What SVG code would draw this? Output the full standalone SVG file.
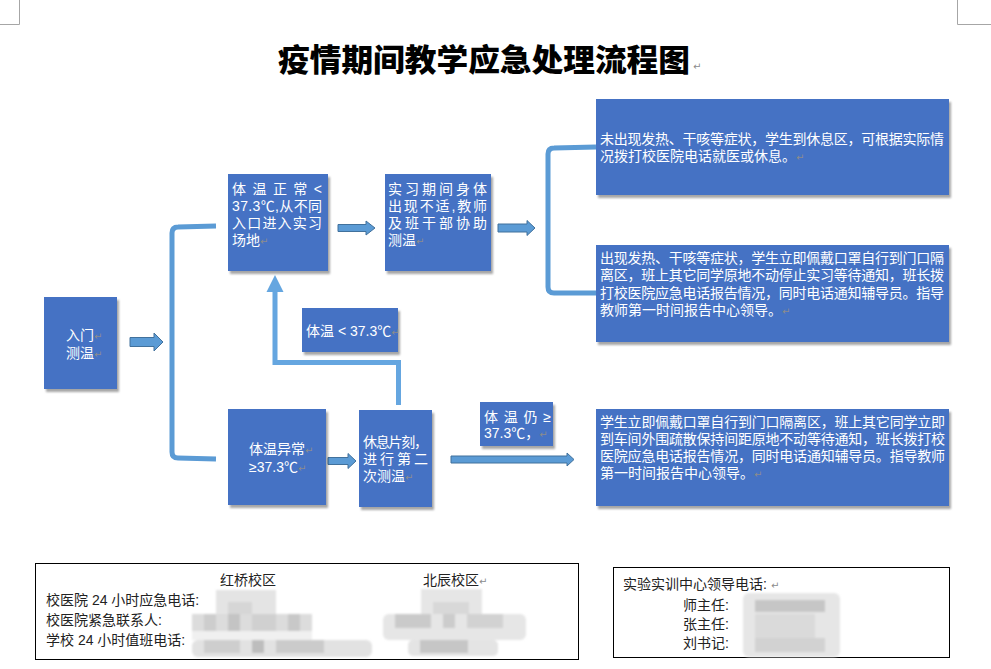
<svg xmlns="http://www.w3.org/2000/svg" width="991" height="669" viewBox="0 0 991 669">
<defs>
<filter id="sh" x="-10%" y="-10%" width="130%" height="140%">
<feDropShadow dx="2" dy="3" stdDeviation="1.3" flood-color="#000" flood-opacity="0.35"/>
</filter>
<filter id="bl" x="-5%" y="-20%" width="110%" height="140%">
<feGaussianBlur stdDeviation="0.8"/>
</filter>
<style>
.box{fill:#4472C4;filter:url(#sh)}
.t{font-family:"Liberation Sans","Noto Sans CJK SC",sans-serif;font-size:14px;fill:#fff}
.pm{font-family:"DejaVu Sans",sans-serif;font-size:10px;fill:#8c8c8c}
.ba{fill:#5B9BD5;stroke:#41719C;stroke-width:1}
.ln{fill:none;stroke:#5B9BD5;stroke-width:5}
.el{fill:none;stroke:#65A6E0;stroke-width:5}
.bt{font-family:"Liberation Sans","Noto Sans CJK SC",sans-serif;font-size:14px;fill:#222}
.frame{fill:#fff;stroke:#000;stroke-width:1}
.cm{fill:none;stroke:#a6a6a6;stroke-width:1}
</style>
</defs>
<rect width="991" height="669" fill="#fff"/>
<path class="cm" d="M19.5,0 V24.5 H0"/>
<path class="cm" d="M957.5,0 V24.5 H991"/>
<text x="484" y="71" text-anchor="middle" textLength="412" lengthAdjust="spacingAndGlyphs" style="font-family:'Noto Sans CJK SC',sans-serif;font-size:31px;font-weight:900;fill:#000">疫情期间教学应急处理流程图</text>
<text x="693" y="70" class="pm">↵</text>

<g id="connectors">
<path class="ba" d="M130,337.5 H154 V333 L163,342 L154,351 V346.5 H130 Z"/>
<path class="ln" d="M216,226 L178,227 Q172,227 172,233 V452 Q172,458 178,458 L216,459"/>
<path class="ba" d="M338,224.5 H366 V221 L375,228 L366,235 V231.5 H338 Z"/>
<path class="ba" d="M498,224 H527 V220.5 L535,228 L527,235.5 V232 H498 Z"/>
<path class="ln" d="M596,147 L554,148 Q548,148 548,154 V287 Q548,293 554,293 L596,293"/>
<path class="ba" d="M328,457.5 H348 V453.5 L356,461 L348,468.5 V464.5 H328 Z"/>
<path class="ba" d="M451,456 H567 V453 L574,459.5 L567,466 V463 H451 Z"/>
<path class="el" d="M398.5,405 V362.5 H275 V290"/>
<polygon points="275,275 266.5,292 283.5,292" fill="#65A6E0"/>
</g>

<g id="n-entry">
<rect class="box" x="44" y="297" width="73" height="92"/>
<text class="t" x="66" y="340">入门<tspan class="pm">↵</tspan></text>
<text class="t" x="66" y="358">测温<tspan class="pm">↵</tspan></text>
</g>

<g id="n-normal">
<rect class="box" x="228" y="174" width="100" height="97"/>
<text class="t" x="232" y="194" textLength="90" lengthAdjust="spacing">体温正常&lt;</text>
<text class="t" x="232" y="211" textLength="90" lengthAdjust="spacing">37.3℃,从不同</text>
<text class="t" x="232" y="228" textLength="90" lengthAdjust="spacing">入口进入实习</text>
<text class="t" x="232" y="245">场地<tspan class="pm">↵</tspan></text>
</g>

<g id="n-unwell">
<rect class="box" x="385" y="174" width="106" height="97"/>
<text class="t" x="388" y="194" textLength="99" lengthAdjust="spacing">实习期间身体</text>
<text class="t" x="388" y="211" textLength="99" lengthAdjust="spacing">出现不适,教师</text>
<text class="t" x="388" y="228" textLength="99" lengthAdjust="spacing">及班干部协助</text>
<text class="t" x="388" y="245">测温<tspan class="pm">↵</tspan></text>
</g>

<g id="n-nofever">
<rect class="box" x="596" y="99" width="353" height="96"/>
<text class="t" x="600" y="144" textLength="344" lengthAdjust="spacing">未出现发热、干咳等症状，学生到休息区，可根据实际情</text>
<text class="t" x="600" y="161">况拨打校医院电话就医或休息。<tspan class="pm">↵</tspan></text>
</g>

<g id="n-fever">
<rect class="box" x="596" y="245" width="353" height="97"/>
<text class="t" x="600" y="263" textLength="344" lengthAdjust="spacing">出现发热、干咳等症状，学生立即佩戴口罩自行到门口隔</text>
<text class="t" x="600" y="280" textLength="344" lengthAdjust="spacing">离区，班上其它同学原地不动停止实习等待通知，班长拨</text>
<text class="t" x="600" y="298" textLength="344" lengthAdjust="spacing">打校医院应急电话报告情况，同时电话通知辅导员。指导</text>
<text class="t" x="600" y="315">教师第一时间报告中心领导。<tspan class="pm">↵</tspan></text>
</g>

<g id="n-below">
<rect class="box" x="302" y="308" width="96" height="44"/>
<text class="t" x="306" y="336">体温 &lt; 37.3℃<tspan class="pm">↵</tspan></text>
</g>

<g id="n-abnormal">
<rect class="box" x="228" y="409" width="98" height="96"/>
<text class="t" x="249" y="454">体温异常<tspan class="pm">↵</tspan></text>
<text class="t" x="249" y="472">≥37.3℃<tspan class="pm">↵</tspan></text>
</g>

<g id="n-rest">
<rect class="box" x="359" y="410" width="73" height="97"/>
<text class="t" x="363" y="447" textLength="65" lengthAdjust="spacing">休息片刻，</text>
<text class="t" x="363" y="464" textLength="65" lengthAdjust="spacing">进行第二</text>
<text class="t" x="363" y="481">次测温<tspan class="pm">↵</tspan></text>
</g>

<g id="n-still">
<rect class="box" x="480" y="402" width="73" height="44"/>
<text class="t" x="484" y="422" textLength="67" lengthAdjust="spacing">体温仍≥</text>
<text class="t" x="484" y="438">37.3℃，<tspan class="pm">↵</tspan></text>
</g>

<g id="n-isolate">
<rect class="box" x="596" y="409" width="353" height="97"/>
<text class="t" x="600" y="427" textLength="345" lengthAdjust="spacing">学生立即佩戴口罩自行到门口隔离区，班上其它同学立即</text>
<text class="t" x="600" y="444" textLength="345" lengthAdjust="spacing">到车间外围疏散保持间距原地不动等待通知，班长拨打校</text>
<text class="t" x="600" y="461" textLength="345" lengthAdjust="spacing">医院应急电话报告情况，同时电话通知辅导员。指导教师</text>
<text class="t" x="600" y="478">第一时间报告中心领导。<tspan class="pm">↵</tspan></text>
</g>

<g id="contacts-left">
<rect class="frame" x="35.5" y="563.5" width="543" height="96"/>
<text class="bt" x="220" y="585">红桥校区</text>
<text class="bt" x="423" y="585">北辰校区<tspan class="pm">↵</tspan></text>
<text class="bt" x="46" y="605">校医院 24  小时应急电话:</text>
<text class="bt" x="46" y="625">校医院紧急联系人:</text>
<text class="bt" x="46" y="645">学校 24  小时值班电话:</text>
<g filter="url(#bl)">
<rect x="216" y="590" width="60" height="24" fill="#e4e4e4"/>
<rect x="228" y="602" width="24" height="12" fill="#d6d6d6"/>
<rect x="192" y="614" width="120" height="17" fill="#dcdcdc"/>
<rect x="204" y="614" width="12" height="17" fill="#cdcdcd"/>
<rect x="228" y="614" width="12" height="17" fill="#c4c4c4"/>
<rect x="252" y="614" width="24" height="17" fill="#d0d0d0"/>
<rect x="288" y="614" width="12" height="17" fill="#c8c8c8"/>
<rect x="192" y="631" width="120" height="9" fill="#f0f0f0"/>
<rect x="192" y="640" width="180" height="17" rx="6" fill="#e2e2e2"/>
<rect x="204" y="640" width="36" height="13" fill="#cecece"/>
<rect x="252" y="640" width="12" height="13" fill="#bdbdbd"/>
<rect x="276" y="640" width="48" height="13" fill="#cbcbcb"/>
<rect x="421" y="589" width="61" height="25" fill="#e6e6e6"/>
<rect x="433" y="602" width="36" height="12" fill="#d8d8d8"/>
<rect x="383" y="614" width="143" height="26" rx="6" fill="#e6e6e6"/>
<rect x="395" y="614" width="36" height="14" fill="#cacaca"/>
<rect x="443" y="614" width="12" height="14" fill="#cccccc"/>
<rect x="467" y="614" width="36" height="14" fill="#d2d2d2"/>
<rect x="408" y="640" width="90" height="16" rx="5" fill="#e4e4e4"/>
<rect x="420" y="640" width="48" height="13" fill="#c6c6c6"/>
</g>
</g>

<g id="contacts-right">
<rect class="frame" x="613.5" y="567.5" width="336" height="90"/>
<text class="bt" x="623" y="589">实验实训中心领导电话:<tspan class="pm" dx="4">↵</tspan></text>
<text class="bt" x="683" y="610">师主任:</text>
<text class="bt" x="683" y="629">张主任:</text>
<text class="bt" x="683" y="648">刘书记:</text>
<g filter="url(#bl)">
<rect x="743" y="593" width="97" height="64" rx="6" fill="#e6e6e6"/>
<rect x="755" y="600" width="70" height="12" fill="#c6c6c6"/>
<rect x="755" y="614" width="60" height="24" fill="#dadada"/>
<rect x="755" y="638" width="70" height="14" fill="#d2d2d2"/>
</g>
</g>
</svg>
